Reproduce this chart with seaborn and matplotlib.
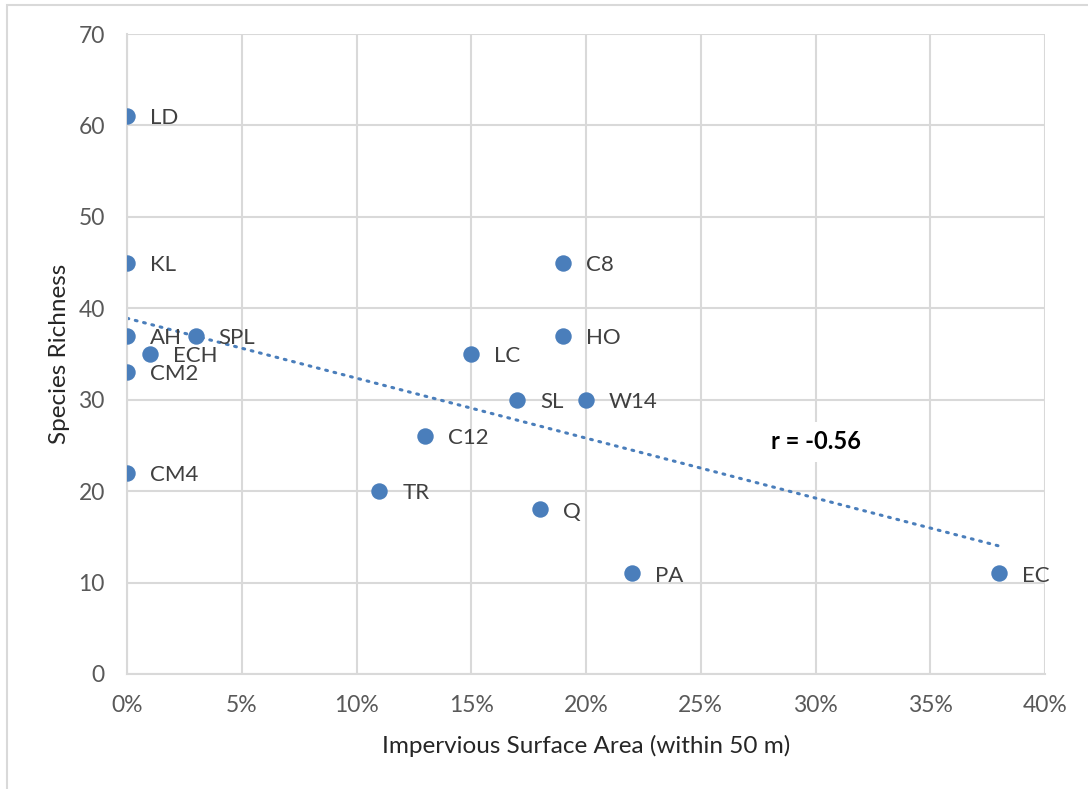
import numpy as np
import pandas as pd
import matplotlib
matplotlib.use("Agg")
import matplotlib.pyplot as plt
from matplotlib.patches import Rectangle
import seaborn as sns

# Site codes, impervious surface (% within 50 m) and species richness
sites = ["LD", "KL", "AH", "SPL", "ECH", "CM2", "CM4", "C8", "HO", "LC",
         "SL", "W14", "C12", "TR", "Q", "PA", "EC"]
impervious = [0, 0, 0, 3, 1, 0, 0, 19, 19, 15, 17, 20, 13, 11, 18, 22, 38]
richness = [61, 45, 37, 37, 35, 33, 22, 45, 37, 35, 30, 30, 26, 20, 18, 11, 11]
r_label = "r = -0.56"

x_ticks = [0, 5, 10, 15, 20, 25, 30, 35, 40]
y_ticks = [0, 10, 20, 30, 40, 50, 60, 70]

df = pd.DataFrame({"site": sites, "isa": impervious, "rich": richness})

sns.set_theme(style="white")
plt.rcParams["font.family"] = ["Lato", "DejaVu Sans"]

BLUE = "#4A7EBB"
GRID = "#D9D9D9"
TICK = "#595959"

fig = plt.figure(figsize=(10.88, 7.89), dpi=100)
ax = fig.add_axes([127 / 1088, 1 - 674 / 789, (1045 - 127) / 1088, (674 - 34) / 789])

# chart frame
fig.patches.append(Rectangle((7 / 1088, -0.05), 1.1, 1 - 5 / 789 + 0.05,
                             transform=fig.transFigure, fill=False,
                             edgecolor=GRID, linewidth=1.5, zorder=0))

# linear trend line
slope, intercept = np.polyfit(df["isa"], df["rich"], 1)
xs = np.array([0, df["isa"].max()])
ax.plot(xs, intercept + slope * xs, color=BLUE, linewidth=2.2,
        linestyle=(0, (0.6, 2.2)), dash_capstyle="round", zorder=2)

sns.scatterplot(data=df, x="isa", y="rich", ax=ax, color=BLUE, s=140,
                edgecolor=BLUE, linewidth=0, zorder=3, legend=False)

for s, xv, yv in zip(df["site"], df["isa"], df["rich"]):
    ax.annotate(s, (xv, yv), xytext=(16.5, -1.5), textcoords="offset points",
                ha="left", va="center", fontsize=16, color="#404040", zorder=4)

ax.text(30.0, 25.4, r_label, ha="center", va="center", fontsize=17,
        fontweight="bold", color="black", zorder=4,
        bbox=dict(facecolor="white", edgecolor="none", pad=6))

ax.set_xlim(0, 40)
ax.set_ylim(0, 70)
ax.set_xticks(x_ticks)
ax.set_xticklabels([f"{t}%" for t in x_ticks])
ax.set_yticks(y_ticks)
ax.grid(True, color=GRID, linewidth=1.5)
ax.set_axisbelow(True)
for side in ["top", "right"]:
    ax.spines[side].set_visible(False)
for side in ["left", "bottom"]:
    ax.spines[side].set_color(GRID)
    ax.spines[side].set_linewidth(1.5)
ax.tick_params(axis="both", length=0, labelsize=16.5, labelcolor=TICK)
ax.tick_params(axis="x", pad=15)
ax.tick_params(axis="y", pad=16)

ax.set_xlabel("Impervious Surface Area (within 50 m)", fontsize=17.5,
              color="#262626")
ax.set_ylabel("Species Richness", fontsize=17.5, color="#262626")
ax.xaxis.set_label_coords(0.5, (674 - 746) / 640)
ax.yaxis.set_label_coords((60 - 127) / 918, 0.5)
ax.xaxis.label.set_va("center")
ax.yaxis.label.set_va("center")

fig.savefig("out.png", dpi=100)
